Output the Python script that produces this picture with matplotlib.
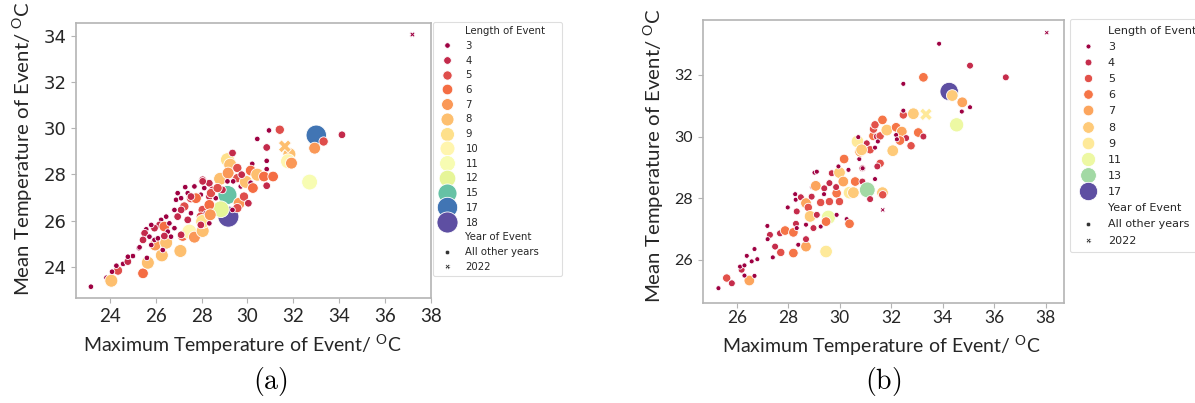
import numpy as np
import matplotlib
matplotlib.use("Agg")
import matplotlib.pyplot as plt
from matplotlib.lines import Line2D
from matplotlib.colors import Normalize

plt.rcParams["mathtext.fontset"] = "custom"
plt.rcParams["mathtext.rm"] = "Lato"
plt.rcParams["mathtext.it"] = "Lato:italic"
plt.rcParams["mathtext.bf"] = "Lato:bold"

# ---------------- panel (a) ----------------
a_max_temp = [
    23.18, 23.86, 24.07, 24.36, 24.10, 24.29, 24.58, 24.79, 25.01, 24.79,
    25.27, 25.45, 25.66, 25.62, 26.27, 27.08, 25.98, 26.46, 27.18, 27.47,
    27.69, 28.05, 29.17, 29.13, 28.84, 28.81, 29.13, 29.25, 29.16, 29.35,
    29.56, 29.56, 29.64, 29.56, 29.35, 29.13, 28.05, 28.34, 28.48, 28.12,
    27.97, 28.34, 28.62, 28.91, 27.54, 27.76, 27.25, 27.11, 26.82, 26.96,
    27.40, 27.54, 28.05, 28.34, 27.97, 28.05, 28.34, 28.19, 28.38, 27.97,
    26.46, 26.24, 26.17, 26.38, 26.60, 26.82, 27.11, 26.67, 26.53, 25.59,
    25.52, 25.73, 25.45, 25.30, 25.95, 26.10, 25.81, 26.38, 26.31, 25.95,
    25.81, 27.40, 26.89, 27.11, 27.69, 28.41, 28.70, 26.96, 27.29, 27.54,
    28.05, 29.38, 29.71,
    30.94, 31.41, 30.43, 30.84, 31.83, 31.77, 31.92, 33.00, 33.32, 32.93,
    34.12, 32.71, 30.84, 30.21, 30.84, 30.14, 30.43, 30.72, 31.12, 29.93,
    30.14, 29.75, 30.24, 30.84, 29.85, 30.04,
]
a_mean_temp = [
    23.13, 23.52, 23.39, 23.83, 23.78, 24.04, 24.12, 24.22, 24.46, 24.43,
    24.80, 23.71, 24.17, 24.38, 24.49, 24.68, 24.94, 25.04, 25.33, 25.52,
    25.28, 25.55, 26.17, 27.11, 26.49, 27.81, 28.64, 28.42, 28.06, 28.93,
    28.28, 27.84, 26.75, 26.54, 26.46, 27.70, 27.77, 27.62, 27.33, 27.41,
    27.12, 27.04, 26.97, 27.33, 26.97, 26.97, 26.61, 26.46, 26.46, 26.17,
    26.03, 26.32, 26.46, 26.68, 26.17, 25.96, 25.88, 26.32, 26.25, 25.81,
    26.17, 26.03, 25.81, 25.74, 25.88, 25.67, 25.38, 25.30, 25.52, 25.62,
    25.45, 25.30, 25.16, 24.84, 25.16, 25.23, 24.94, 25.33, 24.72, 25.67,
    25.81, 27.19, 26.90, 26.97, 27.48, 27.19, 27.41, 27.19, 27.45, 27.04,
    27.70, 27.70, 27.48,
    29.91, 29.94, 29.54, 29.17, 28.88, 28.57, 28.49, 29.70, 29.43, 29.14,
    29.72, 27.67, 28.59, 28.46, 28.23, 28.17, 27.99, 27.91, 27.91, 27.68,
    27.64, 27.99, 27.41, 27.51, 27.04, 26.75,
]
a_length = [
    3, 3, 8, 5, 3, 3, 3, 4, 3, 3,
    3, 6, 8, 3, 8, 8, 7, 8, 6, 10,
    7, 8, 18, 15, 12, 8, 9, 8, 7, 4,
    5, 5, 7, 5, 3, 3, 4, 4, 4, 3,
    3, 4, 3, 4, 5, 6, 5, 4, 3, 4,
    4, 3, 5, 6, 5, 9, 3, 3, 7, 4,
    3, 3, 4, 6, 3, 3, 4, 3, 3, 3,
    4, 3, 4, 3, 3, 3, 3, 4, 3, 4,
    3, 3, 3, 3, 3, 5, 5, 3, 3, 4,
    4, 3, 3,
    3, 5, 3, 4, 8, 10, 7, 17, 5, 7,
    4, 11, 3, 3, 3, 6, 8, 6, 6, 8,
    3, 4, 6, 4, 5, 4,
]
# events recorded in 2022
a22_max_temp = [31.63, 37.19]
a22_mean_temp = [29.22, 34.07]
a22_length = [8, 3]
a_legend_lengths = [3, 4, 5, 6, 7, 8, 9, 10, 11, 12, 15, 17, 18]

# ---------------- panel (b) ----------------
b_max_temp = [
    25.29, 25.61, 25.81, 26.49, 26.19, 26.13, 26.30, 26.30, 26.69, 26.39,
    26.58, 26.80, 26.69, 27.19, 27.29, 27.20, 27.40, 27.49, 27.71, 27.68,
    27.88, 28.20, 28.20, 28.39, 28.69, 28.69, 28.69, 28.30, 28.98, 29.26,
    29.56, 29.47, 29.88, 30.27, 30.38, 29.47, 27.98, 28.27, 28.29, 28.49,
    28.33, 28.69, 28.78, 28.85, 29.11, 29.26, 28.91, 28.93, 29.07, 29.40,
    29.60, 29.60, 29.88, 29.86, 29.99, 29.69, 29.99, 29.95, 30.14, 30.17,
    30.34, 30.38, 30.53, 30.60, 30.88, 30.88, 31.07, 31.18, 31.37, 31.57,
    31.66, 31.67, 30.76, 30.89, 30.69, 30.79, 31.05, 31.18, 31.31, 31.44,
    31.31, 31.37, 31.66, 31.57, 31.83, 29.02, 29.11, 30.72, 31.48, 28.33,
    29.39,
    33.86, 35.06, 36.45, 33.25, 32.47, 34.25, 34.37, 34.76, 35.06, 34.74,
    34.54, 32.86, 32.47, 32.47, 32.19, 32.41, 32.58, 32.34, 33.05, 33.25,
    32.77, 32.06, 32.19, 32.22, 31.37, 31.46, 30.89, 30.85,
]
b_mean_temp = [
    25.08, 25.41, 25.24, 25.33, 25.68, 25.78, 25.82, 25.49, 25.48, 26.13,
    25.95, 26.02, 26.35, 27.10, 26.81, 26.67, 26.08, 26.43, 26.24, 26.86,
    26.95, 26.89, 26.22, 26.49, 26.43, 26.67, 27.14, 27.17, 27.03, 27.08,
    27.38, 27.24, 27.46, 27.32, 27.17, 26.27, 27.70, 28.13, 27.95, 28.03,
    27.57, 27.84, 27.70, 27.41, 27.46, 27.86, 28.05, 28.36, 28.40, 28.32,
    27.89, 28.49, 28.16, 28.36, 27.89, 28.81, 28.83, 29.03, 28.54, 29.27,
    28.92, 28.18, 28.18, 28.54, 28.54, 28.97, 28.27, 27.97, 28.62, 29.13,
    28.18, 28.11, 29.27, 29.51, 29.84, 29.51, 29.78, 29.57, 30.02, 30.00,
    30.24, 30.38, 30.54, 30.02, 30.21, 28.83, 28.86, 29.98, 29.84, 27.03,
    28.13,
    33.01, 32.30, 31.92, 31.92, 31.71, 31.46, 31.33, 31.11, 30.95, 30.81,
    30.38, 30.74, 30.70, 30.84, 30.30, 30.16, 29.95, 29.87, 30.13, 30.00,
    29.70, 29.54, 30.05, 29.91, 29.64, 29.03, 28.97, 29.57,
]
b_length = [
    3, 5, 4, 7, 4, 3, 3, 3, 3, 3,
    3, 3, 3, 3, 4, 3, 3, 4, 5, 4,
    6, 6, 6, 3, 7, 4, 3, 4, 4, 3,
    11, 6, 3, 3, 6, 9, 3, 3, 3, 4,
    4, 7, 5, 8, 4, 5, 4, 3, 7, 4,
    5, 4, 6, 4, 5, 4, 8, 3, 7, 6,
    3, 9, 8, 6, 4, 4, 13, 4, 3, 5,
    8, 5, 3, 4, 9, 7, 4, 5, 6, 4,
    5, 5, 6, 5, 8, 3, 3, 3, 3, 3,
    3,
    3, 4, 4, 6, 3, 17, 8, 7, 3, 3,
    11, 8, 5, 3, 6, 7, 4, 6, 6, 4,
    5, 8, 3, 3, 3, 4, 3, 8,
]
b22_max_temp = [33.35, 31.67, 38.04]
b22_mean_temp = [30.72, 27.62, 33.37]
b22_length = [9, 3, 3]
b_legend_lengths = [3, 4, 5, 6, 7, 8, 9, 11, 13, 17]

W, H = 1195, 403
fig = plt.figure(figsize=(W / 100, H / 100), dpi=100)
cmap = plt.get_cmap("Spectral")
TEXT = "#262626"
SPINE = "#b4b4b4"


def px_axes(left, top, right, bottom):
    return fig.add_axes([left / W, 1 - bottom / H, (right - left) / W, (bottom - top) / H])


def panel(ax, xs, ys, ls, x22, y22, l22, legend_levels, smin, smax,
          xlim, ylim, xticks, yticks, legend_box, legend_fs, label_sp, border_pad,
          ytick_font, ytick_fs, xtick_fs, xtick_pad):
    lo, hi = min(legend_levels), max(legend_levels)
    norm = Normalize(lo, hi)

    def size(v):
        v = np.asarray(v, dtype=float)
        return smin + (v - lo) / (hi - lo) * (smax - smin)

    ax.scatter(xs, ys, s=size(ls), c=cmap(norm(np.asarray(ls))), marker="o",
               edgecolors="white", linewidths=0.6, zorder=3)
    ax.scatter(x22, y22, s=size(l22), c=cmap(norm(np.asarray(l22))), marker="X",
               edgecolors="white", linewidths=0.6, zorder=3)

    ax.set_xlim(*xlim)
    ax.set_ylim(*ylim)
    ax.set_xticks(xticks)
    ax.set_yticks(yticks)
    for sp in ax.spines.values():
        sp.set_color(SPINE)
        sp.set_linewidth(1.2)
    ax.tick_params(axis="both", colors=SPINE, length=3.5, width=0.8,
                   labelcolor=TEXT)
    ax.tick_params(axis="x", pad=xtick_pad)
    for t in ax.get_yticklabels():
        t.set_fontfamily(ytick_font)
        t.set_fontsize(ytick_fs)
    for t in ax.get_xticklabels():
        t.set_fontfamily("Lato")
        t.set_fontsize(xtick_fs)

    handles, labels = [], []
    blank = Line2D([], [], linestyle="", marker="")
    handles.append(blank)
    labels.append("Length of Event")
    for v in legend_levels:
        handles.append(Line2D([], [], linestyle="", marker="o",
                              markersize=np.sqrt(size(v)),
                              markerfacecolor=cmap(norm(v)),
                              markeredgecolor="white", markeredgewidth=0.6))
        labels.append(str(v))
    handles.append(blank)
    labels.append("Year of Event")
    handles.append(Line2D([], [], linestyle="", marker="o", markersize=3.2,
                          markerfacecolor="#333333", markeredgecolor="white",
                          markeredgewidth=0.4))
    labels.append("All other years")
    handles.append(Line2D([], [], linestyle="", marker="X", markersize=3.6,
                          markerfacecolor="#333333", markeredgecolor="white",
                          markeredgewidth=0.4))
    labels.append("2022")
    lx, ly, lw = legend_box
    leg = ax.legend(handles, labels, loc="upper left",
                    bbox_to_anchor=(lx / W, 1 - ly / H, lw / W, 0),
                    bbox_transform=fig.transFigure, borderaxespad=0,
                    mode="expand", borderpad=border_pad,
                    prop={"family": "DejaVu Sans", "size": legend_fs},
                    labelspacing=label_sp, frameon=True, fancybox=True)
    leg.get_frame().set_edgecolor("#d6d6d6")
    leg.get_frame().set_linewidth(0.8)
    for t in leg.get_texts():
        t.set_color(TEXT)


XLABEL = r"Maximum Temperature of Event/ $^{\mathrm{O}}$C"
YLABEL = r"Mean Temperature of Event/ $^{\mathrm{O}}$C"

ax_a = px_axes(76, 23, 431, 298)
panel(ax_a, a_max_temp, a_mean_temp, a_length, a22_max_temp, a22_mean_temp,
      a22_length, a_legend_lengths, 16, 230,
      (22.53, 37.91), (22.64, 34.57), range(24, 39, 2), range(24, 35, 2),
      (433, 22, 129), 7.3, 0.467, 0.4, "DejaVu Sans", 13, 13.5, 3.5)
ax_a.set_xlabel(XLABEL, fontfamily="Lato", fontsize=14, color=TEXT, labelpad=6)
ax_a.set_ylabel(YLABEL, fontfamily="Lato", fontsize=14.7, color=TEXT, labelpad=6)
ax_a.xaxis.label.set_x(0.468)
ax_a.yaxis.label.set_y(0.545)

ax_b = px_axes(703, 20, 1064, 303)
panel(ax_b, b_max_temp, b_mean_temp, b_length, b22_max_temp, b22_mean_temp,
      b22_length, b_legend_lengths, 13, 175,
      (24.69, 38.71), (24.60, 33.78), range(26, 39, 2), range(26, 33, 2),
      (1070, 19, 150), 8.0, 0.553, 0.6, "Lato", 11.5, 12.5, 1.5)
ax_b.set_xlabel(XLABEL, fontfamily="Lato", fontsize=14, color=TEXT, labelpad=6)
ax_b.set_ylabel(YLABEL, fontfamily="Lato", fontsize=14.7, color=TEXT, labelpad=6)
ax_b.xaxis.label.set_x(0.493)
ax_b.yaxis.label.set_y(0.523)

fig.text(270 / W, 1 - 381 / H, r"$\mathrm{(a)}$", fontsize=20, ha="center",
         va="center", math_fontfamily="cm", color="black")
fig.text(883 / W, 1 - 381 / H, r"$\mathrm{(b)}$", fontsize=20, ha="center",
         va="center", math_fontfamily="cm", color="black")

fig.savefig("out.png", dpi=100, facecolor="white")
